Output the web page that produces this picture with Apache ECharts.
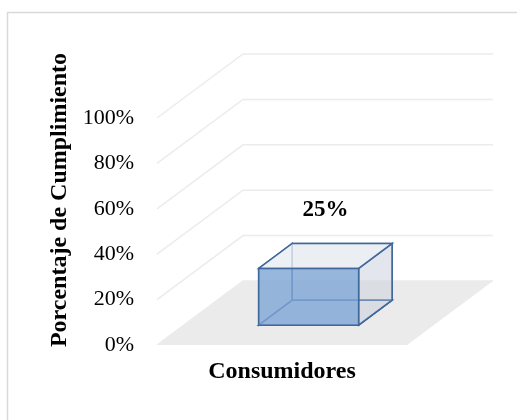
<!DOCTYPE html>
<html>
<head>
<meta charset="utf-8">
<script src="https://cdn.jsdelivr.net/npm/echarts@6/dist/echarts.min.js"></script>
<style>
html,body{margin:0;padding:0;background:#fff;}
#chart{width:517px;height:420px;}
</style>
</head>
<body>
<div id="chart"></div>
<script>
// datos
var categorias = ['Consumidores'];
var valores = [0.25];
var ticks = [0, 0.2, 0.4, 0.6, 0.8, 1];

// vector de profundidad (pseudo 3D)
var DX = 86, DY = -64;
var PROF_INI = 0.31, PROF_FIN = 0.70;
var ANCHO = 0.4;

var serif = 'Liberation Serif, Times New Roman, serif';
var chart = echarts.init(document.getElementById('chart'));

function pct(v) { return Math.round(v * 100) + '%'; }

// suelo gris
function renderPiso(params, api) {
    var c = api.coord([0, 0]);
    var w = api.size([1, 0])[0];
    var L = c[0] - w / 2, R = c[0] + w / 2, y = c[1];
    return {
        type: 'polygon',
        shape: { points: [[L, y], [R, y], [R + DX, y + DY], [L + DX, y + DY]] },
        style: { fill: '#ebebeb' }
    };
}

// lineas de division en las paredes
function renderLineas(params, api) {
    var c = api.coord([0, api.value(1)]);
    var w = api.size([1, 0])[0];
    var L = c[0] - w / 2, R = c[0] + w / 2, y = c[1];
    return {
        type: 'polyline',
        shape: { points: [[L, y], [L + DX, y + DY], [R + DX, y + DY]] },
        style: { stroke: '#ececec', lineWidth: 1.5, fill: null }
    };
}

// barra en caja transparente
function renderBarra(params, api) {
    var base = api.coord([api.value(0), 0]);
    var top = api.coord([api.value(0), api.value(1)]);
    var w = api.size([1, 0])[0] * ANCHO;
    var x0 = base[0] - w / 2, x1 = base[0] + w / 2;
    var yb = base[1], yt = top[1];
    function p(x, y, d) { return [x + DX * d, y + DY * d]; }
    var a = PROF_INI, b = PROF_FIN;
    var edge = { stroke: '#41689c', lineWidth: 1.5 };
    function face(pts, fill) {
        return { type: 'polygon', shape: { points: pts }, style: Object.assign({ fill: fill }, edge) };
    }
    var midD = (a + b) / 2;
    var lab = p(base[0], yt, midD);
    return {
        type: 'group',
        children: [
            face([p(x0, yb, b), p(x1, yb, b), p(x1, yt, b), p(x0, yt, b)], 'rgba(215,220,230,0.35)'),
            face([p(x0, yb, a), p(x0, yb, b), p(x0, yt, b), p(x0, yt, a)], 'rgba(215,220,230,0.2)'),
            face([p(x0, yb, a), p(x1, yb, a), p(x1, yb, b), p(x0, yb, b)], 'rgba(200,208,222,0.25)'),
            face([p(x1, yb, a), p(x1, yb, b), p(x1, yt, b), p(x1, yt, a)], 'rgba(200,206,218,0.35)'),
            face([p(x0, yt, a), p(x1, yt, a), p(x1, yt, b), p(x0, yt, b)], 'rgba(234,238,244,0.8)'),
            face([p(x0, yb, a), p(x1, yb, a), p(x1, yt, a), p(x0, yt, a)], 'rgba(128,166,214,0.8)'),
            {
                type: 'text',
                x: lab[0], y: lab[1] - 46,
                style: {
                    text: pct(api.value(1)),
                    fill: '#000',
                    font: 'bold 23px ' + serif,
                    textAlign: 'center',
                    textVerticalAlign: 'middle'
                }
            }
        ]
    };
}

option = {
    backgroundColor: '#fff',
    animation: false,
    grid: {
        left: 157,
        width: 250,
        top: 118,
        bottom: 75
    },
    xAxis: {
        type: 'category',
        data: categorias,
        axisLine: { show: false },
        axisTick: { show: false },
        axisLabel: {
            margin: 15,
            color: '#000',
            fontFamily: serif,
            fontWeight: 'bold',
            fontSize: 24
        }
    },
    yAxis: {
        type: 'value',
        min: 0,
        max: 1,
        interval: 0.2,
        axisLine: { show: false },
        axisTick: { show: false },
        splitLine: { show: false },
        axisLabel: {
            margin: 23,
            color: '#000',
            fontFamily: serif,
            fontSize: 22,
            formatter: pct
        }
    },
    graphic: [
        {
            type: 'rect',
            shape: { x: 7.5, y: 12.5, width: 600, height: 500 },
            style: { fill: null, stroke: '#d9d9d9', lineWidth: 1.5 }
        },
        {
            type: 'text',
            x: 60, y: 200,
            rotation: Math.PI / 2,
            style: {
                text: 'Porcentaje de Cumplimiento',
                fill: '#000',
                font: 'bold 24px ' + serif,
                textAlign: 'center',
                textVerticalAlign: 'middle'
            }
        }
    ],
    series: [
        {
            type: 'custom',
            renderItem: renderPiso,
            data: [[0, 0]],
            z: 1,
            silent: true
        },
        {
            type: 'custom',
            renderItem: renderLineas,
            data: ticks.map(function (t) { return [0, t]; }),
            z: 2,
            silent: true
        },
        {
            type: 'custom',
            renderItem: renderBarra,
            data: valores.map(function (v, i) { return [i, v]; }),
            z: 3
        }
    ]
};
chart.setOption(option);
</script>
</body>
</html>
